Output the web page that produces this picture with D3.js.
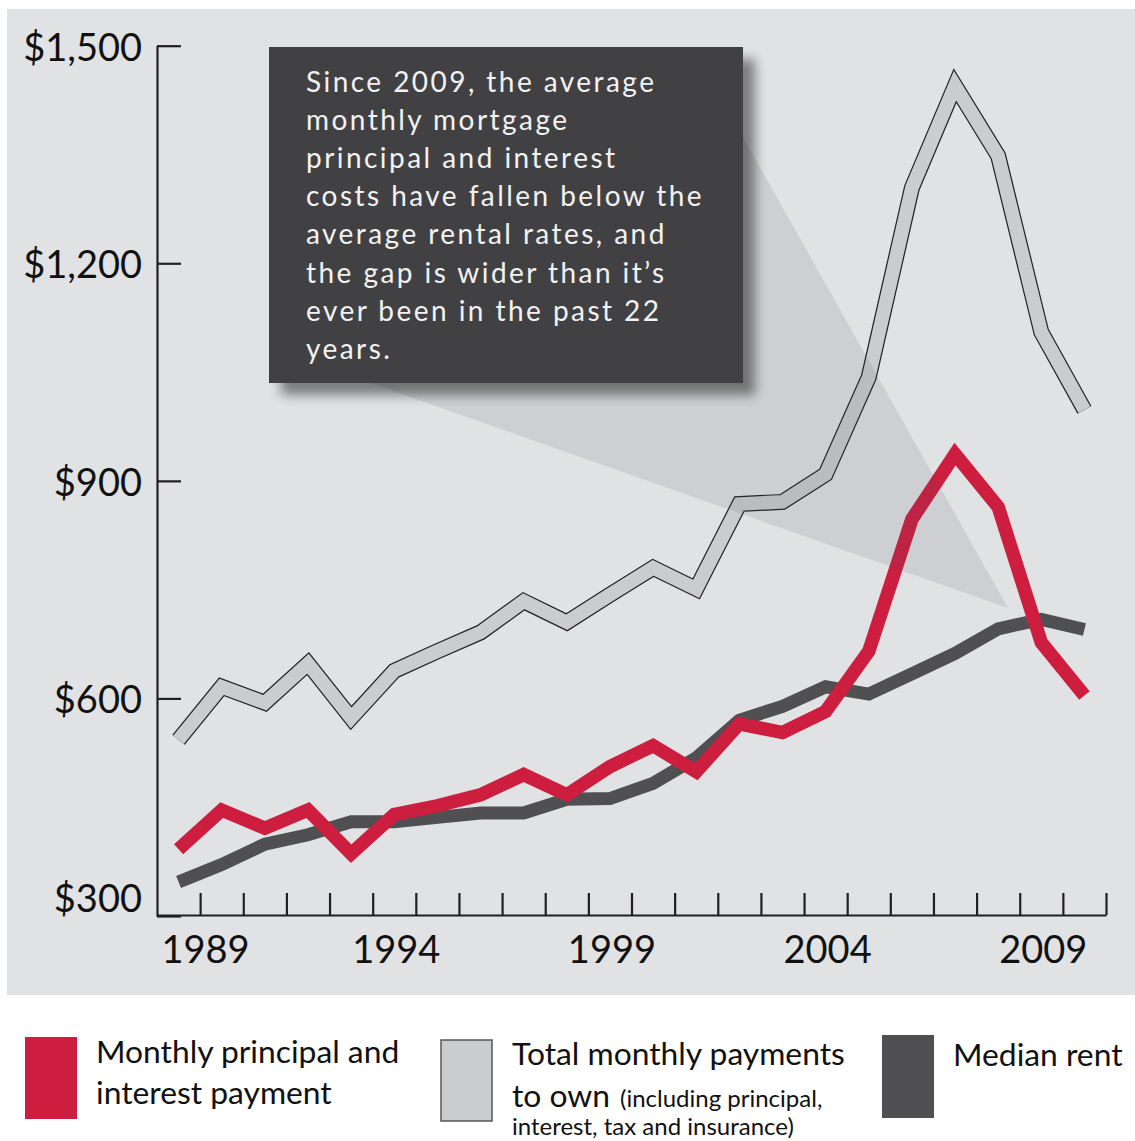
<!DOCTYPE html>
<html><head><meta charset="utf-8">
<script src="https://cdn.jsdelivr.net/npm/d3@7"></script>
<style>
body{margin:0;background:#fff;}
svg{display:block;font-family:Lato,"Open Sans",sans-serif;}
</style></head>
<body><svg id="chart" width="1135" height="1141"></svg>
<script>
const years = [1989,1990,1991,1992,1993,1994,1995,1996,1997,1998,1999,2000,2001,2002,2003,2004,2005,2006,2007,2008,2009,2010];
const totalPayments = [543,616,594,648,573,638,665,691,734,705,743,780,751,868,871,909,1043,1304,1445,1348,1105,998];
const principalInterest = [392,446,421,446,386,440,452,467,495,467,506,535,499,565,553,582,665,847,937,864,677,604];
const medianRent = [347,371,399,412,430,430,436,442,442,461,462,483,518,570,589,616,606,634,662,696,709,695];
const yTicks = [300,600,900,1200,1500];
const yTickLabels = ["$300","$600","$900","$1,200","$1,500"];
const xLabelYears = [1989,1994,1999,2004,2009];
const calloutLines = ["Since 2009, the average","monthly mortgage","principal and interest","costs have fallen below the","average rental rates, and","the gap is wider than it\u2019s","ever been in the past 22","years."];
const legendItems = [
  {key:"principal", lines:["Monthly principal and","interest payment"]},
  {key:"total", lines:["Total monthly payments","to own"], extra:["(including principal,","interest, tax and insurance)"]},
  {key:"rent", lines:["Median rent"]}
];

const svg = d3.select("#chart");
const axisColor = "#231f20";
const colors = {principal:"#cd1e40", total:"#cbcccd", rent:"#505052"};

// panel
svg.append("rect").attr("x",7).attr("y",9).attr("width",1128).attr("height",986).attr("fill","#e1e2e4");

const x = d3.scaleLinear().domain([1988.5, 2010.5]).range([157, 1106]);
const y = d3.scaleLinear().domain([300, 1500]).range([916, 45.7]);

const defs = svg.append("defs");
const f = defs.append("filter").attr("id","shadow").attr("x","-20%").attr("y","-20%").attr("width","140%").attr("height","140%");
f.append("feGaussianBlur").attr("stdDeviation",6);

// axes
const yAxis = d3.axisLeft(y).tickValues(yTicks).tickSize(-24).tickSizeOuter(0).tickFormat(()=> "");
const gy = svg.append("g").attr("transform","translate(157,0)").call(yAxis);
gy.selectAll("path,line").attr("stroke",axisColor).attr("stroke-width",2.2);
yTicks.forEach((v,i)=>{
  svg.append("text").attr("x",142).attr("y", v===300 ? 912 : y(v)+15)
    .attr("text-anchor","end").attr("font-size",38).attr("fill","#111")
    .text(yTickLabels[i]);
});

const boundaries = d3.range(1989.5, 2011, 1);
const xAxis = d3.axisBottom(x).tickValues(boundaries).tickSize(-22).tickSizeOuter(0).tickFormat(()=> "");
const gx = svg.append("g").attr("transform","translate(0,915)").call(xAxis);
gx.selectAll("path,line").attr("stroke",axisColor).attr("stroke-width",2.2);
xLabelYears.forEach((yr,i)=>{
  svg.append("text").attr("x", x(yr) + (i===0 ? 27 : 2)).attr("y",963)
    .attr("text-anchor","middle").attr("font-size",38).attr("fill","#111").text(yr);
});

// lines
const line = d3.line().x((d,i)=>x(years[i])).y(d=>y(d));
svg.append("path").attr("d",line(totalPayments)).attr("fill","none").attr("stroke",axisColor)
  .attr("stroke-width",16).attr("stroke-linejoin","miter").attr("stroke-miterlimit",10);
svg.append("path").attr("d",line(totalPayments)).attr("fill","none").attr("stroke",colors.total)
  .attr("stroke-width",13.6).attr("stroke-linejoin","miter").attr("stroke-miterlimit",10);
svg.append("path").attr("d",line(medianRent)).attr("fill","none").attr("stroke",colors.rent)
  .attr("stroke-width",13).attr("stroke-linejoin","miter").attr("stroke-miterlimit",10);
svg.append("path").attr("d",line(principalInterest)).attr("fill","none").attr("stroke",colors.principal)
  .attr("stroke-width",13.5).attr("stroke-linejoin","miter").attr("stroke-miterlimit",10);

// callout pointer
svg.append("polygon").attr("points","1008,608 722,100 300,358")
  .attr("fill","rgb(70,70,90)").attr("fill-opacity",0.12);

// callout box
const bx=269, by=47, bw=474, bh=336;
svg.append("rect").attr("x",bx+12).attr("y",by+12).attr("width",bw).attr("height",bh)
  .attr("fill","#000").attr("opacity",0.45).attr("filter","url(#shadow)");
svg.append("rect").attr("x",bx).attr("y",by).attr("width",bw).attr("height",bh).attr("fill","#414143");
const ct = svg.append("text").attr("fill","#f2f2f2").attr("font-size",28).attr("letter-spacing",2.45);
calloutLines.forEach((t,i)=>{
  ct.append("tspan").attr("x",306).attr("y",92 + i*38.1).text(t);
});

// legend
const lg = svg.append("g");
lg.append("rect").attr("x",25).attr("y",1037).attr("width",52).attr("height",82).attr("fill",colors.principal);
lg.append("rect").attr("x",441).attr("y",1040).attr("width",51).attr("height",81).attr("fill",colors.total).attr("stroke","#555").attr("stroke-width",1.5);
lg.append("rect").attr("x",882).attr("y",1035).attr("width",52).attr("height",83).attr("fill",colors.rent);
const lt = (xx,yy,t,s)=>lg.append("text").attr("x",xx).attr("y",yy).attr("font-size",s||31.8).attr("fill","#111").text(t);
lt(96,1063,legendItems[0].lines[0]);
lt(96,1104,legendItems[0].lines[1]);
lt(512,1065,legendItems[1].lines[0]);
const t2 = lt(512,1107,legendItems[1].lines[1]);
t2.append("tspan").attr("font-size",24).attr("dx",10).text(legendItems[1].extra[0]);
lt(512,1135,legendItems[1].extra[1],24);
lt(953,1066,legendItems[2].lines[0]);
</script></body></html>
